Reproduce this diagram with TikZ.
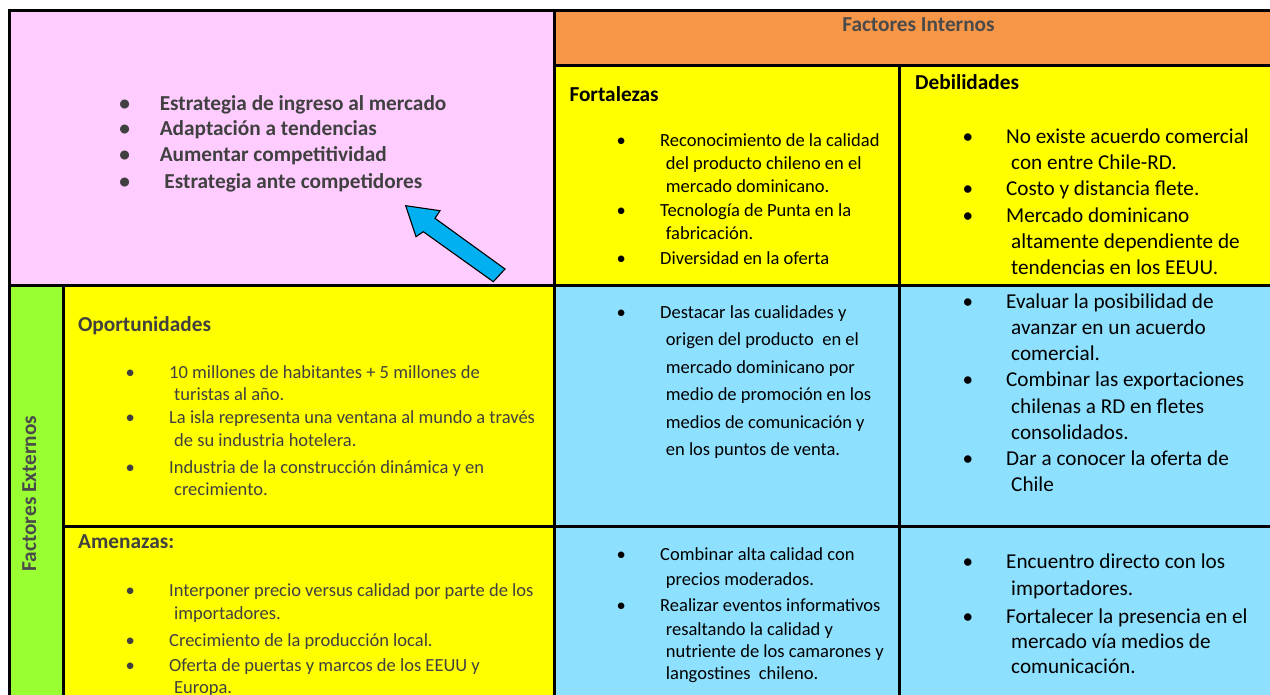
\documentclass[tikz,border=0pt]{standalone}
\usepackage{fontspec}
\setmainfont{Carlito}
\definecolor{pinkc}{HTML}{FFCCFF}
\definecolor{orangec}{HTML}{F79646}
\definecolor{yellowc}{HTML}{FFFF00}
\definecolor{greenc}{HTML}{99FF33}
\definecolor{bluec}{HTML}{8EE0FF}
\definecolor{arrowc}{HTML}{00B0F0}
\definecolor{txtg}{HTML}{404040}
\definecolor{txth}{HTML}{4A4A4A}
\newcommand{\bu}[1]{\makebox[0pt]{\textbullet}\hspace{#1pt}}
\newcommand{\cn}[1]{\hspace{#1pt}}
\tikzset{
  gridline/.style={line width=3pt, draw=black, line join=miter, line cap=rect},
  lst/.style={inner sep=0pt, anchor=base west},
  hdg/.style={inner sep=0pt, anchor=base west, font=\bfseries\fontsize{21.3}{25}\selectfont},
}
\begin{document}
\begin{tikzpicture}[x=1pt,y=-1pt]
\useasboundingbox (0,0) rectangle (1270,695);
\clip (0,0) rectangle (1270,695);
\fill[white] (0,0) rectangle (1270,695);
% cell fills
\fill[pinkc] (9.5,10.5) rectangle (554.5,285.5);
\fill[orangec] (554.5,10.5) rectangle (1280,65.5);
\fill[yellowc] (554.5,65.5) rectangle (1280,285.5);
\fill[greenc] (9.5,285.5) rectangle (63.5,700);
\fill[yellowc] (63.5,285.5) rectangle (554.5,700);
\fill[bluec] (554.5,285.5) rectangle (1280,700);
% grid lines
\draw[gridline] (9.5,700) -- (9.5,10.5) -- (1280,10.5);
\draw[gridline] (554.5,10.5) -- (554.5,700);
\draw[gridline] (554.5,65.5) -- (1280,65.5);
\draw[gridline] (899.5,65.5) -- (899.5,700);
\draw[gridline] (9.5,285.5) -- (1280,285.5);
\draw[gridline] (63.5,285.5) -- (63.5,700);
\draw[gridline] (63.5,526) -- (1280,526);
% arrow
\filldraw[fill=arrowc, draw=black, line width=1.1pt, line join=miter]
  (405.7,205.7) -- (440,210.7) -- (435,218.3) -- (505,269) -- (493.3,281.7)
  -- (423.3,231.7) -- (416,236.7) -- cycle;
% headers
\node[inner sep=0pt, anchor=base, text=txth, font=\bfseries\fontsize{21.3}{25}\selectfont] (fint) at (918.5,31.7) {Factores Internos};
\node[inner sep=0pt, anchor=base, rotate=90, text=txth, font=\bfseries\fontsize{21.3}{25}\selectfont] (fext) at (36,493.5) {Factores Externos};
\node[hdg, text=black] (fortH) at (569.3,101.7) {Fortalezas};
\node[hdg, text=black] (debH) at (915,89.3) {Debilidades};
\node[hdg, text=txtg] (opH) at (77.9,331.7) {Oportunidades};
\node[hdg, text=txtg] (amH) at (78,548.3) {Amenazas:};
% pink list
\node[lst, text=txtg, font=\bfseries\fontsize{21.3}{25}\selectfont] (pk) at (124.6,111) {%
\begin{tabular}[t]{@{}l@{}}
\bu{35}Estrategia de ingreso al mercado\\
\bu{35}Adaptación a tendencias\\[1pt]
\bu{35}Aumentar competitividad\\[2pt]
\bu{39.7}Estrategia ante competidores
\end{tabular}};
% fortalezas
\node[lst, text=black, font=\fontsize{18.5}{22.6}\selectfont] (ft) at (621,146.7) {%
\begin{tabular}[t]{@{}l@{}}
\bu{39}Reconocimiento de la calidad\\
\cn{44.7}del producto chileno en el\\[0.8pt]
\cn{44.7}mercado dominicano.\\[1.4pt]
\bu{39}Tecnología de Punta en la\\
\cn{44.7}fabricación.\\[3.1pt]
\bu{39}Diversidad en la oferta
\end{tabular}};
% debilidades
\node[lst, text=black, font=\fontsize{21.2}{26.3}\selectfont] (db) at (967.8,143.3) {%
\begin{tabular}[t]{@{}l@{}}
\bu{38.2}No existe acuerdo comercial\\
\cn{43.2}con entre Chile-RD.\\
\bu{38.2}Costo y distancia flete.\\
\bu{38.2}Mercado dominicano\\
\cn{43.2}altamente dependiente de\\
\cn{43.2}tendencias en los EEUU.
\end{tabular}};
% oportunidades
\node[lst, text=txtg, font=\fontsize{18.5}{21.7}\selectfont] (op) at (130,378.3) {%
\begin{tabular}[t]{@{}l@{}}
\bu{39}10 millones de habitantes + 5 millones de\\
\cn{44}turistas al año.\\[1.6pt]
\bu{39}La isla representa una ventana al mundo a través\\[1.7pt]
\cn{44}de su industria hotelera.\\[4.9pt]
\bu{39}Industria de la construcción dinámica y en\\
\cn{44}crecimiento.
\end{tabular}};
% amenazas
\node[lst, text=txtg, font=\fontsize{18.5}{21.6}\selectfont] (am) at (130,596.7) {%
\begin{tabular}[t]{@{}l@{}}
\bu{39}Interponer precio versus calidad por parte de los\\[1pt]
\cn{44}importadores.\\[5.1pt]
\bu{39}Crecimiento de la producción local.\\[4.1pt]
\bu{39}Oferta de puertas y marcos de los EEUU y\\
\cn{44}Europa.
\end{tabular}};
% blue top left
\node[lst, text=black, font=\fontsize{18.5}{27.5}\selectfont] (fo) at (621,318.3) {%
\begin{tabular}[t]{@{}l@{}}
\bu{39}Destacar las cualidades y\\
\cn{44.7}origen del producto\ \ en el\\
\cn{44.7}mercado dominicano por\\
\cn{44.7}medio de promoción en los\\
\cn{44.7}medios de comunicación y\\
\cn{44.7}en los puntos de venta.
\end{tabular}};
% blue top right
\node[lst, text=black, font=\fontsize{21.2}{26.2}\selectfont] (do) at (967.8,308.3) {%
\begin{tabular}[t]{@{}l@{}}
\bu{38.2}Evaluar la posibilidad de\\
\cn{43.2}avanzar en un acuerdo\\
\cn{43.2}comercial.\\
\bu{38.2}Combinar las exportaciones\\
\cn{43.2}chilenas a RD en fletes\\
\cn{43.2}consolidados.\\
\bu{38.2}Dar a conocer la oferta de\\
\cn{43.2}Chile
\end{tabular}};
% blue bottom left
\node[lst, text=black, font=\fontsize{18.5}{22}\selectfont] (fa) at (621,560) {%
\begin{tabular}[t]{@{}l@{}}
\bu{39}Combinar alta calidad con\\[3pt]
\cn{44.7}precios moderados.\\[4.7pt]
\bu{39}Realizar eventos informativos\\[1.3pt]
\cn{44.7}resaltando la calidad y\\[0.3pt]
\cn{44.7}nutriente de los camarones y\\
\cn{44.7}langostines\ \ chileno.
\end{tabular}};
% blue bottom right
\node[lst, text=black, font=\fontsize{21.2}{25}\selectfont] (da) at (967.8,568.3) {%
\begin{tabular}[t]{@{}l@{}}
\bu{38.2}Encuentro directo con los\\[1.7pt]
\cn{43.2}importadores.\\[3.3pt]
\bu{38.2}Fortalecer la presencia en el\\
\cn{43.2}mercado vía medios de\\
\cn{43.2}comunicación.
\end{tabular}};
\end{tikzpicture}
\end{document}
